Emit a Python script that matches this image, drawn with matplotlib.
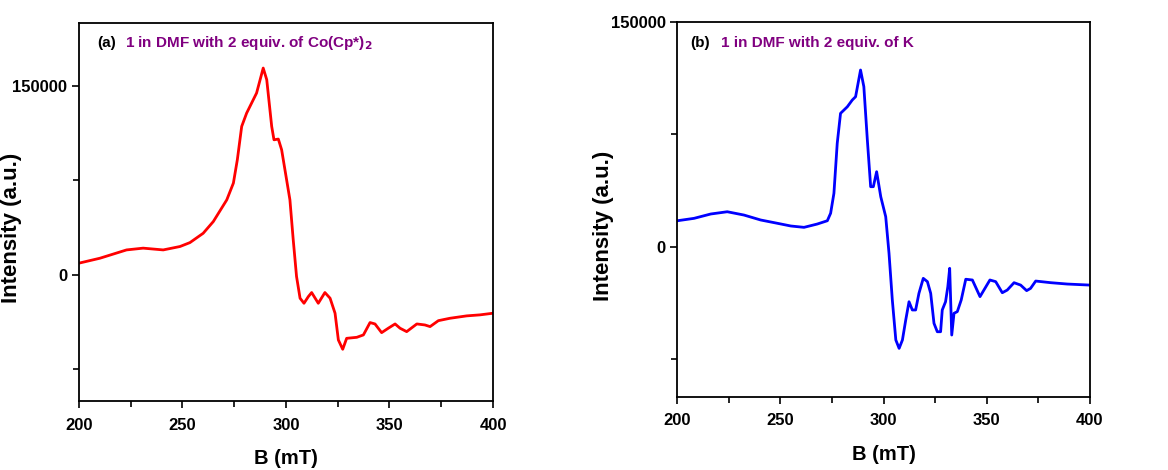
import numpy as np
import matplotlib.pyplot as plt
from matplotlib.ticker import MultipleLocator

plt.rcParams["font.family"] = ["Liberation Sans", "DejaVu Sans"]
plt.rcParams["font.weight"] = "bold"

# panel (a): 1 in DMF with 2 equiv. of Co(Cp*)2
b_a = [200, 210.1, 223, 231, 240.7, 248.8, 253.6, 260, 264.9, 271.4, 274.6, 276.5,
       278.6, 281, 285.8, 289, 290.7, 293.1, 294.2, 296.3, 297.9, 300.3, 301.9,
       303.5, 305.1, 306.8, 308.7, 310.8, 312.4, 315.6, 318.8, 321.3, 323.7,
       325.3, 327.4, 329.3, 334.2, 337.4, 340.6, 343.0, 346.2, 349.4, 352.7,
       355.1, 358.3, 363.2, 367.1, 369.6, 373.6, 379.2, 387.3, 393.7, 400]
i_a = [9300, 13200, 19800, 21200, 19800, 22500, 25600, 33000, 42300, 59500, 72800,
       91300, 117700, 128300, 144200, 164000, 154800, 117700, 107100, 107700,
       99200, 75400, 59500, 27800, -1300, -18500, -22500, -17200, -14000, -22500,
       -14000, -18500, -30400, -51600, -59000, -50300, -49500, -47600, -37800,
       -38900, -45800, -42300, -38900, -42300, -45000, -38900, -39700, -41000,
       -36300, -34400, -32500, -31700, -30400]

# panel (b): 1 in DMF with 2 equiv. of K
b_b = [200, 208.1, 216.2, 224.2, 232.3, 240.4, 248.5, 255, 261.4, 267.8, 272.7,
       274.3, 275.9, 277.5, 279.1, 282.4, 284.8, 286.4, 288.8, 290.4, 292.1,
       293.7, 295, 296.6, 298.6, 301, 302.6, 304.2, 305.9, 307.5, 309.1, 310.7,
       312.3, 313.9, 315.5, 317.1, 319.2, 321.2, 322.8, 324.4, 326, 327.6, 328.4,
       330, 331.1, 332, 333, 334.1, 335.7, 337.6, 339.8, 343, 346.7, 348.6,
       351.5, 354.3, 357.5, 359.9, 363.2, 366.4, 369.3, 371.2, 373.7, 381, 389, 400]
i_b = [17300, 18900, 21800, 23300, 21100, 17800, 15600, 13800, 12900, 15100, 17300,
       22300, 35600, 68900, 88900, 93300, 97800, 100000, 117800, 106700, 71100,
       40000, 40000, 50000, 33300, 20000, -4400, -35500, -62200, -67800, -62200,
       -48900, -36700, -42200, -42200, -31100, -21100, -23300, -31100, -51100,
       -56700, -56700, -42200, -36700, -26700, -14400, -58900, -44400, -43300,
       -35500, -21700, -22200, -33300, -28900, -22200, -23300, -30700, -28900,
       -24000, -25600, -29300, -27800, -22900, -24000, -24900, -25600]

fig = plt.figure(figsize=(11.68, 4.70), dpi=100)
ax1 = fig.add_axes([0.0676, 0.1468, 0.3545, 0.805])
ax2 = fig.add_axes([0.5799, 0.156, 0.3533, 0.7978])

panels = [
    (ax1, b_a, i_a, "red", (-100000, 200000), "(a)", "1 in DMF with 2 equiv. of Co(Cp*)$_2$",
     (0.0435, 0.111, 0.946), (-0.138, 0.457)),
    (ax2, b_b, i_b, "blue", (-100000, 150000), "(b)", "1 in DMF with 2 equiv. of K",
     (0.031, 0.105, 0.942), (-0.153, 0.455)),
]

for ax, x, y, col, ylim, tag, desc, tpos, lpos in panels:
    ax.plot(x, y, color=col, lw=2)
    ax.set_xlim(200, 400)
    ax.set_ylim(*ylim)
    ax.xaxis.set_major_locator(MultipleLocator(50))
    ax.xaxis.set_minor_locator(MultipleLocator(25))
    ax.set_yticks([0, 150000])
    ax.yaxis.set_minor_locator(MultipleLocator(75000))
    ax.tick_params(which="both", direction="out", width=1.2, labelsize=12)
    ax.tick_params(axis="x", which="major", pad=7)
    ax.tick_params(which="major", length=5)
    ax.tick_params(which="minor", length=4)
    for lab in ax.get_xticklabels() + ax.get_yticklabels():
        lab.set_fontweight("bold")
    for s in ax.spines.values():
        s.set_linewidth(1.3)
    ax.set_xlabel("B (mT)", fontsize=14.5, fontweight="bold", labelpad=12)
    ax.set_ylabel("Intensity (a.u.)", fontsize=16, fontweight="bold")
    ax.yaxis.set_label_coords(*lpos)
    ax.text(tpos[0], tpos[2], tag, transform=ax.transAxes, fontsize=11,
            fontweight="bold", color="black", va="center")
    ax.text(tpos[1], tpos[2], desc, transform=ax.transAxes, fontsize=11,
            fontweight="bold", color="#800080", va="center")

fig.savefig("out.png", dpi=100, facecolor="white")
